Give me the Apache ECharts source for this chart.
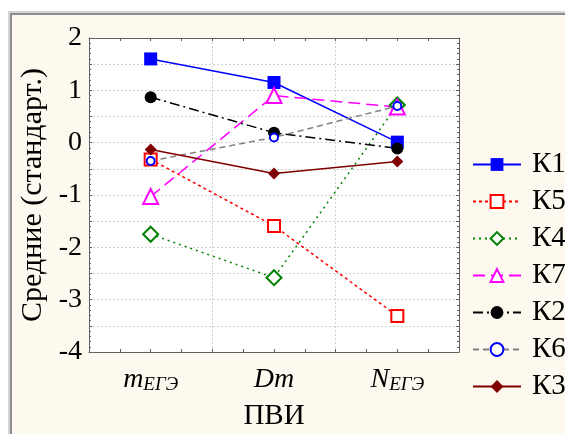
<!DOCTYPE html>
<html><head><meta charset="utf-8">
<script src="https://cdn.jsdelivr.net/npm/echarts@6/dist/echarts.min.js"></script>
<style>html,body{margin:0;padding:0;background:#fff}#c{width:565px;height:434px}</style>
</head><body><div id="c"></div>
<script>
// ---- data ----
const categories = ['m', 'Dm', 'N'];
const subscripts = ['ЕГЭ', '', 'ЕГЭ'];
const seriesNames = ['К1', 'К5', 'К4', 'К7', 'К2', 'К6', 'К3'];
const K1 = [1.60, 1.15, 0.01];
const K5 = [-0.32, -1.59, -3.31];
const K4 = [-1.75, -2.58, 0.72];
const K7 = [-1.03, 0.90, 0.68];
const K2 = [0.87, 0.19, -0.11];
const K6 = [-0.35, 0.10, 0.70];
const K3 = [-0.13, -0.59, -0.36];
const yTicks = [-4, -3, -2, -1, 0, 1, 2];
const xTitle = 'ПВИ';
const yTitle = 'Средние (стандарт.)';

const FONT = 'Liberation Serif';
const chart = echarts.init(document.getElementById('c'));

function mk(name, data, color, lineType, symbol, size, symColor) {
  return {
    name: name, type: 'line', data: data,
    xAxisIndex: 0, yAxisIndex: 0,
    symbol: symbol, symbolSize: size,
    lineStyle: { color: color, width: 1.5, type: lineType },
    itemStyle: { color: symColor || color, borderWidth: 2 },
    emphasis: { disabled: true },
    animation: false
  };
}

const series = [
  mk(seriesNames[0], K1, '#0000ff', 'solid', 'rect', 13),
  mk(seriesNames[1], K5, '#ff0000', [3, 3], 'emptyRect', 12),
  mk(seriesNames[2], K4, '#008000', [2, 4], 'emptyDiamond', 15),
  mk(seriesNames[3], K7, '#ff00ff', [12, 6], 'emptyTriangle', 15),
  mk(seriesNames[4], K2, '#000000', [10, 4, 2, 4], 'circle', 12),
  mk(seriesNames[5], K6, '#808080', [6, 4], 'emptyCircle', 8, '#0000ff'),
  mk(seriesNames[6], K3, '#800000', 'solid', 'diamond', 12)
];

const gridLine = { show: true, lineStyle: { color: '#d0d0d0', type: [2, 2], width: 1 } };
const axisCol = '#606060';

chart.setOption({
  backgroundColor: '#fdf9ee',
  animation: false,
  textStyle: { fontFamily: FONT },
  graphic: [
    { type: 'rect', shape: { x: 0, y: 0, width: 565, height: 11 }, style: { fill: '#ffffff' }, silent: true },
    { type: 'rect', shape: { x: 0, y: 0, width: 8, height: 434 }, style: { fill: '#ffffff' }, silent: true },
    { type: 'rect', shape: { x: 8, y: 11, width: 557, height: 2 }, style: { fill: '#d4d4d4' }, silent: true },
    { type: 'rect', shape: { x: 8, y: 11, width: 2, height: 423 }, style: { fill: '#d4d4d4' }, silent: true },
    { type: 'rect', shape: { x: 10, y: 13, width: 555, height: 2 }, style: { fill: '#8c8c8c' }, silent: true },
    { type: 'rect', shape: { x: 10, y: 13, width: 2, height: 421 }, style: { fill: '#8c8c8c' }, silent: true }
  ],
  grid: { left: 89, top: 38, width: 370, height: 314, show: true, backgroundColor: '#ffffff', borderWidth: 0, containLabel: false, outerBoundsMode: 'none' },
  legend: {
    orient: 'vertical', left: 467, top: 145,
    itemWidth: 48, itemHeight: 16, itemGap: 8,
    data: seriesNames,
    textStyle: { fontFamily: FONT, fontSize: 29, color: '#000', lineHeight: 28, padding: [0, 0, 0, 6] },
    selectedMode: false
  },
  xAxis: [
    {
      type: 'category', data: categories, position: 'bottom', boundaryGap: true,
      axisLine: { show: true, onZero: false, lineStyle: { color: axisCol, width: 1 } },
      axisTick: { show: false }, splitLine: { show: false },
      axisLabel: {
        margin: 12, interval: 0,
        formatter: function (v, i) {
          return subscripts[i] ? '{i|' + v + '}{s|' + subscripts[i] + '}' : '{i|' + v + '}';
        },
        rich: {
          i: { fontFamily: FONT, fontStyle: 'italic', fontSize: 28, color: '#000', lineHeight: 30, verticalAlign: 'bottom' },
          s: { fontFamily: FONT, fontStyle: 'italic', fontSize: 19, color: '#000', lineHeight: 12, verticalAlign: 'bottom' }
        }
      },
      name: xTitle, nameLocation: 'middle', nameGap: 50,
      nameTextStyle: { fontFamily: FONT, fontSize: 29, color: '#000' }
    },
    {
      type: 'value', min: -2, max: 10, interval: 4, position: 'bottom',
      axisLine: { show: false, onZero: false }, axisTick: { show: false }, axisLabel: { show: false },
      splitLine: gridLine
    },
    {
      type: 'value', min: 0, max: 12, interval: 1, position: 'bottom',
      axisLine: { show: false, onZero: false }, axisLabel: { show: false }, splitLine: { show: false },
      axisTick: { show: true, inside: true, length: 3, lineStyle: { color: axisCol } }
    },
    {
      type: 'value', min: 0, max: 12, interval: 1, position: 'top',
      axisLine: { show: true, onZero: false, lineStyle: { color: axisCol } }, axisLabel: { show: false }, splitLine: { show: false },
      axisTick: { show: true, inside: true, length: 3, lineStyle: { color: axisCol } }
    }
  ],
  yAxis: [
    {
      type: 'value', min: -4, max: 2, interval: 0.5, position: 'left',
      axisLine: { show: true, onZero: false, lineStyle: { color: axisCol } },
      axisTick: { show: true, inside: true, length: 3, lineStyle: { color: axisCol } },
      minorTick: { show: true, splitNumber: 5, length: 2, lineStyle: { color: axisCol } },
      axisLabel: {
        margin: 7, fontFamily: FONT, fontSize: 28, color: '#000',
        formatter: function (v) { return yTicks.indexOf(Math.round(v * 100) / 100) >= 0 ? String(Math.round(v)) : ''; }
      },
      splitLine: gridLine,
      name: yTitle, nameLocation: 'middle', nameGap: 37, nameRotate: 90,
      nameTextStyle: { fontFamily: FONT, fontSize: 30, color: '#000' }
    },
    {
      type: 'value', min: -4, max: 2, interval: 0.5, position: 'right',
      axisLine: { show: true, onZero: false, lineStyle: { color: axisCol } },
      axisTick: { show: true, inside: true, length: 3, lineStyle: { color: axisCol } },
      minorTick: { show: true, splitNumber: 5, length: 2, lineStyle: { color: axisCol } },
      axisLabel: { show: false }, splitLine: { show: false }
    }
  ],
  series: series
});
</script></body></html>
